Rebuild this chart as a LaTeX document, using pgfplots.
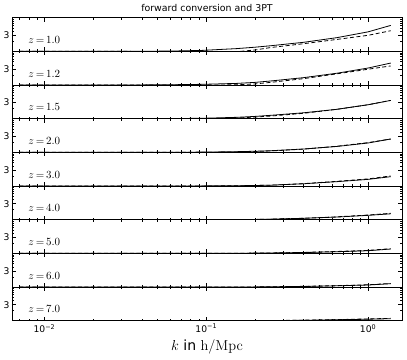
\documentclass[border=0pt]{standalone}
\usepackage[no-math]{fontspec}
\setmainfont{DejaVu Sans}
\usepackage{pgfplots}
\usepackage{pgfplotstable}
\pgfplotsset{compat=1.18}
\usepgfplotslibrary{groupplots}

% ratio curves per redshift: k, solid, dashed
\pgfplotstableread{
k     solid dashed
0.007 1.00 1.00
0.03  1.00 1.00
0.06  1.02 0.99
0.095 1.07 0.97
0.155 1.21 0.98
0.2   1.33 1.10
0.25  1.47 1.30
0.4   1.86 1.69
0.64  2.55 2.26
1.0   3.80 3.00
1.38  5.90 4.10
}\zA
\pgfplotstableread{
k     solid dashed
0.007 1.00 1.00
0.03  1.00 1.00
0.06  1.02 1.00
0.095 1.05 0.99
0.155 1.12 1.02
0.2   1.20 1.08
0.25  1.32 1.20
0.4   1.66 1.55
0.64  2.24 2.15
1.0   3.20 2.95
1.38  4.50 3.70
}\zB
\pgfplotstableread{
k     solid dashed
0.007 1.00 1.00
0.03  1.00 1.00
0.06  1.01 1.00
0.095 1.03 1.00
0.155 1.10 1.05
0.2   1.17 1.12
0.25  1.26 1.20
0.4   1.50 1.45
0.64  1.90 1.90
1.0   2.60 2.60
1.38  3.50 3.50
}\zC
\pgfplotstableread{
k     solid dashed
0.007 1.00 1.00
0.03  1.00 1.00
0.06  1.00 1.00
0.095 1.02 1.00
0.155 1.05 1.03
0.2   1.08 1.06
0.25  1.12 1.10
0.4   1.26 1.25
0.64  1.50 1.52
1.0   1.90 1.95
1.38  2.50 2.50
}\zD
\pgfplotstableread{
k     solid dashed
0.007 1.00 1.00
0.03  1.00 1.00
0.06  1.00 1.00
0.095 1.01 1.00
0.155 1.02 1.02
0.2   1.04 1.04
0.25  1.06 1.06
0.4   1.17 1.18
0.64  1.35 1.38
1.0   1.58 1.63
1.38  1.90 2.00
}\zE
\pgfplotstableread{
k     solid dashed
0.007 1.00 1.00
0.03  1.00 1.00
0.06  1.00 1.00
0.095 1.00 1.00
0.155 1.01 1.01
0.2   1.02 1.02
0.25  1.04 1.04
0.4   1.10 1.11
0.64  1.20 1.22
1.0   1.35 1.38
1.38  1.50 1.55
}\zF
\pgfplotstableread{
k     solid dashed
0.007 1.00 1.00
0.03  1.00 1.00
0.06  1.00 1.00
0.095 1.00 1.00
0.155 1.01 1.01
0.2   1.02 1.02
0.25  1.03 1.03
0.4   1.06 1.07
0.64  1.12 1.14
1.0   1.20 1.23
1.38  1.35 1.38
}\zG
\pgfplotstableread{
k     solid dashed
0.007 1.00 1.00
0.03  1.00 1.00
0.06  1.00 1.00
0.095 1.00 1.00
0.155 1.00 1.00
0.2   1.01 1.01
0.25  1.02 1.02
0.4   1.04 1.05
0.64  1.09 1.10
1.0   1.15 1.17
1.38  1.26 1.28
}\zH
\pgfplotstableread{
k     solid dashed
0.007 1.00 1.00
0.03  1.00 1.00
0.06  1.00 1.00
0.095 1.00 1.00
0.155 1.00 1.00
0.2   1.005 1.005
0.25  1.01 1.01
0.4   1.03 1.04
0.64  1.07 1.08
1.0   1.11 1.13
1.38  1.15 1.18
}\zI

\pgfplotsset{
  panel/.style={
    width=390pt, height=33.67pt, scale only axis,
    xmode=log, ymode=log,
    xmin=0.0063, xmax=1.62, ymin=1, ymax=10,
    xtick={0.01,0.1,1},
    xticklabels={10\textsuperscript{−2},10\textsuperscript{−1},10\textsuperscript{0}},
    minor xtick={0.007,0.008,0.009,0.02,0.03,0.04,0.05,0.06,0.07,0.08,0.09,0.2,0.3,0.4,0.5,0.6,0.7,0.8,0.9},
    ytick={3}, yticklabels={3},
    minor ytick={2,4,5,6,7,8,9},
    major tick length=4pt, minor tick length=2pt,
    tick style={black, line width=0.5pt},
    tick align=inside,
    axis line style={line width=0.6pt},
    tick label style={font=\fontsize{9.2}{11}\selectfont},
    yticklabel style={xshift=1pt},
    xlabel style={font=\fontsize{14}{16}\selectfont},
  },
  sol/.style={black, line width=0.8pt},
  das/.style={black, line width=0.8pt, dash pattern=on 4pt off 2.5pt},
}
\newcommand{\zlab}[1]{\node[anchor=base west, font=\fontsize{10.5}{12}\selectfont] at (rel axis cs:0.033,0.23) {$z\mkern-2mu=\mkern-2mu#1$};}
\newcommand{\curves}[1]{%
  \addplot[sol] table[x=k,y=solid]{#1};
  \addplot[das] table[x=k,y=dashed]{#1};}

\begin{document}
\begin{tikzpicture}
\begin{groupplot}[
  group style={group size=1 by 9, vertical sep=0pt,
    xticklabels at=edge bottom, xlabels at=edge bottom},
  panel,
]
\nextgroupplot[title={forward conversion and 3PT},
  title style={font=\fontsize{9.4}{11}\selectfont, yshift=-3pt}]
\curves{\zA}\zlab{1.0}
\nextgroupplot
\curves{\zB}\zlab{1.2}
\nextgroupplot
\curves{\zC}\zlab{1.5}
\nextgroupplot
\curves{\zD}\zlab{2.0}
\nextgroupplot
\curves{\zE}\zlab{3.0}
\nextgroupplot
\curves{\zF}\zlab{4.0}
\nextgroupplot
\curves{\zG}\zlab{5.0}
\nextgroupplot
\curves{\zH}\zlab{6.0}
\nextgroupplot[xlabel={$k$ in $\mathrm{h/Mpc}$}]
\curves{\zI}\zlab{7.0}
\end{groupplot}
\pgfresetboundingbox
\path[use as bounding box] ([shift={(-12pt,17.7pt)}]group c1r1.north west) rectangle ([shift={(5pt,-38.3pt)}]group c1r9.south east);
\end{tikzpicture}
\end{document}
